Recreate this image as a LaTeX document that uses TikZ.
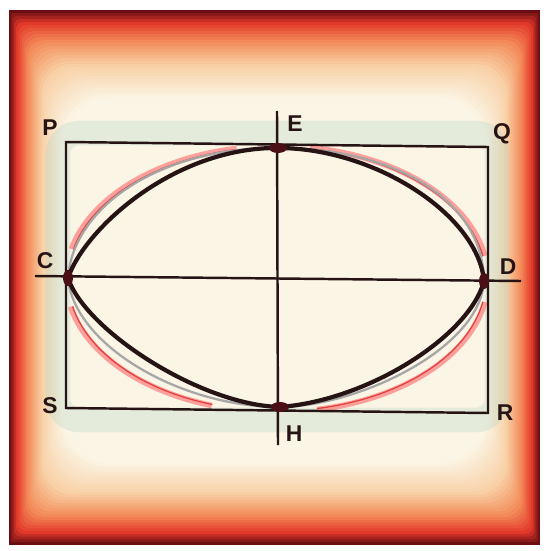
\documentclass[tikz,border=0pt]{standalone}
\usepackage{fontspec}
\setmainfont{Liberation Sans}
\definecolor{vdark}{RGB}{105,15,20}
\definecolor{vred}{RGB}{226,56,42}
\definecolor{vorange}{RGB}{243,138,88}
\definecolor{vpeach}{RGB}{248,208,165}
\definecolor{vcream}{RGB}{251,245,230}
\definecolor{ink}{RGB}{38,20,20}
\definecolor{blob}{RGB}{75,15,22}
\definecolor{halo}{RGB}{175,212,196}
\tikzset{
  frame/.style={ink, line width=1.4pt},
  curve/.style={ink, line width=2.4pt},
  redarc/.style={red!55!white, line width=3.2pt, opacity=.65},
  redline/.style={red!80!black, line width=.7pt, opacity=.6},
  grayarc/.style={gray!70, line width=1.3pt},
  lbl/.style={ink, font=\fontsize{13}{15}\selectfont\bfseries},
}
\begin{document}
\begin{tikzpicture}[x=0.02cm, y=-0.02cm]
  \useasboundingbox (0,0) rectangle (549,551);
  \fill[white] (0,0) rectangle (549,551);
  % faded photo border
  \foreach \i in {0,...,29}{
    \ifnum\i<4 \pgfmathsetmacro\p{100*\i/4}\colorlet{vig}{vred!\p!vdark}
    \else\ifnum\i<10 \pgfmathsetmacro\p{100*(\i-4)/6}\colorlet{vig}{vorange!\p!vred}
    \else\ifnum\i<18 \pgfmathsetmacro\p{100*(\i-10)/8}\colorlet{vig}{vpeach!\p!vorange}
    \else \pgfmathsetmacro\p{100*(\i-18)/11}\colorlet{vig}{vcream!\p!vpeach}\fi\fi\fi
    \pgfmathsetmacro\rc{\i*1}
    \fill[vig, rounded corners=\rc pt] (9+\i*1.8,10+\i*3) rectangle (540-\i*1.8,545-\i*2.8);
  }
  \draw[halo, line width=14pt, opacity=.3, rounded corners=12pt] (58,133) rectangle (497,420);

  \coordinate (O) at (277,279);
  \coordinate (C) at (68,278);
  \coordinate (D) at (484,281);
  \coordinate (E) at (278,148);
  \coordinate (H) at (280,407);
  \coordinate (P) at (66,142);
  \coordinate (Q) at (488,147);
  \coordinate (R) at (488,413);
  \coordinate (S) at (66,408);
  \coordinate (xl) at (35,276);
  \coordinate (xr) at (521,281);
  \coordinate (yt) at (277,111);
  \coordinate (yb) at (278,445);

  % outer traced ellipses
  \begin{scope}[shift={(O)}]
    \foreach \s/\e in {193/259, 279/350, 108/168, 10/79}{
      \draw[redarc] (\s:211 and 133) arc[start angle=\s, end angle=\e, x radius=211, y radius=133];
      \draw[redline] (\s:209 and 132) arc[start angle=\s, end angle=\e, x radius=209, y radius=132];
    }
  \end{scope}
  \draw[grayarc] (C) .. controls (73,207) and (160,147) .. (E)
    .. controls (395,148) and (483,200) .. (D)
    .. controls (480,350) and (355,407) .. (H)
    .. controls (180,407) and (74,345) .. (C);

  \draw[frame] (P) -- (Q) -- (R) -- (S) -- cycle;
  \draw[frame] (xl) -- (xr);
  \draw[frame] (yt) -- (yb);

  \draw[curve] (C) .. controls (85,228) and (175,147) .. (E)
    .. controls (375,148) and (478,215) .. (D)
    .. controls (470,335) and (370,400) .. (H)
    .. controls (200,405) and (85,330) .. (C) -- cycle;

  \foreach \n in {C,D}{
    \fill[blob] (\n) ellipse (5 and 8);
  }
  \foreach \n in {E,H}{
    \fill[blob] (\n) ellipse (9 and 5);
  }

  \node[lbl] (lP) at (50,128) {P};
  \node[lbl] (lE) at (295,124) {E};
  \node[lbl] (lQ) at (502,134) {Q};
  \node[lbl] (lC) at (45,261) {C};
  \node[lbl] (lD) at (508,267) {D};
  \node[lbl] (lS) at (50,406) {S};
  \node[lbl] (lH) at (294,434) {H};
  \node[lbl] (lR) at (505,413) {R};
\end{tikzpicture}
\end{document}
